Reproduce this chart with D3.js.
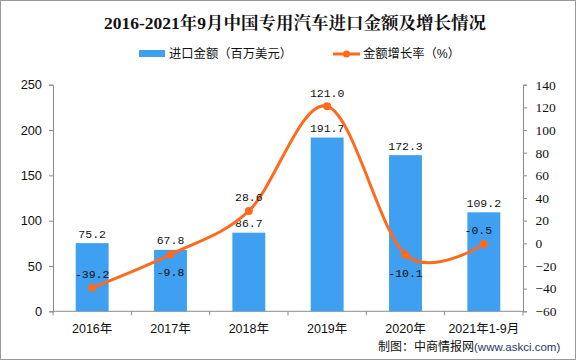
<!DOCTYPE html>
<html>
<head>
<meta charset="utf-8">
<script src="https://cdn.jsdelivr.net/npm/d3@7"></script>
<style>
  body { margin: 0; background: #fff; }
  svg { display: block; }
</style>
</head>
<body>
<div id="chart"></div>
<script>
// chart data
const categories = ['2016年', '2017年', '2018年', '2019年', '2020年', '2021年1-9月'];
const importAmount = [75.2, 67.8, 86.7, 191.7, 172.3, 109.2];
const growthRate = [-39.2, -9.8, 28.6, 121.0, -10.1, -0.5];
const leftTicks = [0, 50, 100, 150, 200, 250];
const rightTicks = [-60, -40, -20, 0, 20, 40, 60, 80, 100, 120, 140];
// where the growth label sits relative to its point: 1 = above, -1 = below
const growthLabelSide = [1, -1, 1, 1, -1, 1];

const width = 576, height = 360;
const plot = { left: 53, right: 523, top: 84.7, bottom: 311.3 };
const blue = '#3f9ff0', orange = '#ff6a1c', axisGray = '#8c8c8c';
const monoFont = '"Liberation Mono", "DejaVu Sans Mono", monospace';
const sansFont = '"Liberation Sans", Arial, sans-serif';
const cjkFont = '"Liberation Sans", "Noto Sans CJK SC", sans-serif';

const svg = d3.select('#chart').append('svg')
    .attr('width', width)
    .attr('height', height);

svg.append('rect')
    .attr('x', 0.5).attr('y', 0.5)
    .attr('width', width - 1).attr('height', height - 1)
    .attr('fill', '#fff')
    .attr('stroke', '#999');

const x = d3.scaleBand()
    .domain(categories)
    .range([plot.left, plot.right])
    .paddingInner(0.58)
    .paddingOuter(0.29);

const yLeft = d3.scaleLinear().domain([0, 250]).range([plot.bottom, plot.top]);
const yRight = d3.scaleLinear().domain([-60, 140]).range([plot.bottom, plot.top]);
const xCenter = d => x(d) + x.bandwidth() / 2;

// title
svg.append('text')
    .attr('x', 295).attr('y', 29)
    .attr('text-anchor', 'middle')
    .attr('font-family', '"Liberation Serif", "Noto Serif CJK SC", "Noto Sans CJK SC", serif')
    .attr('font-weight', 'bold')
    .attr('font-size', 17.5)
    .attr('fill', '#111')
    .text('2016-2021年9月中国专用汽车进口金额及增长情况');

// legend
const legend = svg.append('g').attr('font-family', cjkFont).attr('font-size', 12.3).attr('fill', '#111');
legend.append('rect').attr('x', 139).attr('y', 50).attr('width', 26).attr('height', 7).attr('fill', blue);
legend.append('text').attr('x', 169).attr('y', 58).text('进口金额（百万美元）');
legend.append('line').attr('x1', 333).attr('x2', 360).attr('y1', 54).attr('y2', 54)
    .attr('stroke', orange).attr('stroke-width', 3);
legend.append('circle').attr('cx', 346.5).attr('cy', 54).attr('r', 3.5).attr('fill', orange);
legend.append('text').attr('x', 363).attr('y', 58).text('金额增长率（%）');

// left axis
const leftAxis = svg.append('g')
    .attr('transform', `translate(${plot.left},0)`)
    .call(d3.axisLeft(yLeft).tickValues(leftTicks).tickSize(4).tickPadding(7));
leftAxis.selectAll('text').attr('font-family', sansFont).attr('font-size', 12.8);

// right axis
const rightAxis = svg.append('g')
    .attr('transform', `translate(${plot.right},0)`)
    .call(d3.axisRight(yRight).tickValues(rightTicks).tickSize(4).tickPadding(8.5));
rightAxis.selectAll('text').attr('font-family', '"Liberation Serif", serif').attr('font-size', 13.5);

[leftAxis, rightAxis].forEach(g => {
    g.selectAll('path, line').attr('stroke', axisGray);
    g.selectAll('text').attr('fill', '#111');
});

// bottom axis with ticks between categories
const bottom = svg.append('g');
bottom.append('line')
    .attr('x1', plot.left).attr('x2', plot.right)
    .attr('y1', plot.bottom).attr('y2', plot.bottom)
    .attr('stroke', axisGray);
const step = x.step();
d3.range(categories.length + 1).forEach(i => {
    const tx = plot.left + i * step;
    bottom.append('line')
        .attr('x1', tx).attr('x2', tx)
        .attr('y1', plot.bottom).attr('y2', plot.bottom + 4)
        .attr('stroke', axisGray);
});
bottom.selectAll('text.cat')
    .data(categories)
    .join('text')
    .attr('class', 'cat')
    .attr('x', d => xCenter(d))
    .attr('y', 332.5)
    .attr('text-anchor', 'middle')
    .attr('font-family', cjkFont)
    .attr('font-size', 12.5)
    .attr('fill', '#111')
    .text(d => d);

// bars
svg.append('g')
    .selectAll('rect')
    .data(importAmount)
    .join('rect')
    .attr('x', (d, i) => x(categories[i]))
    .attr('y', d => yLeft(d))
    .attr('width', x.bandwidth())
    .attr('height', d => plot.bottom - yLeft(d))
    .attr('fill', blue);

svg.append('g')
    .selectAll('text')
    .data(importAmount)
    .join('text')
    .attr('x', (d, i) => xCenter(categories[i]))
    .attr('y', d => yLeft(d) - 5.5)
    .attr('text-anchor', 'middle')
    .attr('font-family', monoFont)
    .attr('font-size', 11.5)
    .attr('fill', '#111')
    .text(d => d.toFixed(1));

// growth line (Excel-style smoothing)
const line = d3.line()
    .x((d, i) => xCenter(categories[i]))
    .y(d => yRight(d))
    .curve(d3.curveCatmullRom.alpha(0));

svg.append('path')
    .datum(growthRate)
    .attr('d', line)
    .attr('fill', 'none')
    .attr('stroke', orange)
    .attr('stroke-width', 3);

svg.append('g')
    .selectAll('circle')
    .data(growthRate)
    .join('circle')
    .attr('cx', (d, i) => xCenter(categories[i]))
    .attr('cy', d => yRight(d))
    .attr('r', 4)
    .attr('fill', orange);

svg.append('g')
    .selectAll('text')
    .data(growthRate)
    .join('text')
    .attr('x', (d, i) => xCenter(categories[i]) - (i === 5 ? 5.5 : 0))
    .attr('y', (d, i) => growthLabelSide[i] > 0 ? yRight(d) - 9.5 : yRight(d) + 22)
    .attr('text-anchor', 'middle')
    .attr('font-family', monoFont)
    .attr('font-size', 11.5)
    .attr('fill', '#111')
    .text(d => d.toFixed(1));

// source note
const note = svg.append('text')
    .attr('x', 378).attr('y', 351)
    .attr('font-family', '"Noto Sans CJK SC", sans-serif')
    .attr('font-size', 12)
    .attr('fill', '#111');
note.append('tspan').text('制图：中商情报网');
note.append('tspan')
    .attr('font-family', sansFont)
    .attr('font-size', 11.5)
    .attr('fill', '#1f3864')
    .text('(www.askci.com)');
</script>
</body>
</html>
